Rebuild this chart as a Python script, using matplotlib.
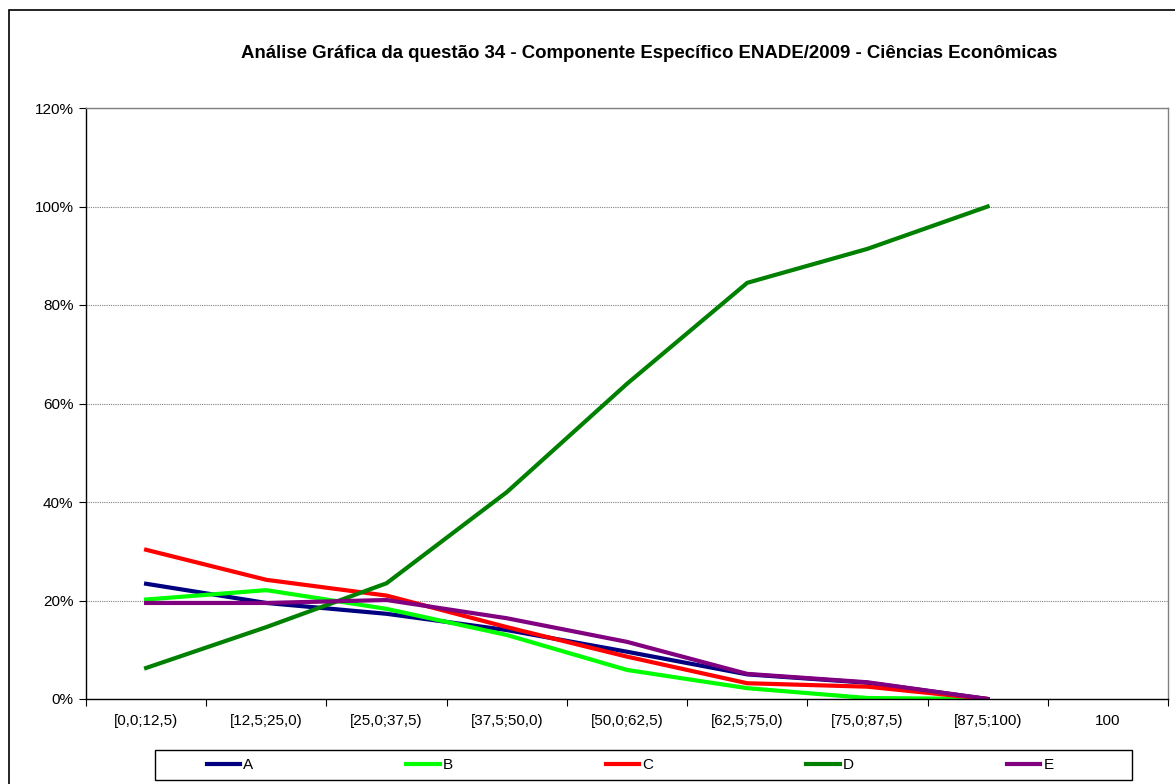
import matplotlib
matplotlib.use("Agg")
import matplotlib.pyplot as plt
from matplotlib.patches import Rectangle
from matplotlib.ticker import PercentFormatter

plt.rcParams["font.family"] = ["Liberation Sans", "DejaVu Sans"]

categories = ["[0,0;12,5)", "[12,5;25,0)", "[25,0;37,5)", "[37,5;50,0)", "[50,0;62,5)",
              "[62,5;75,0)", "[75,0;87,5)", "[87,5;100)", "100"]

# percent of students choosing each alternative per score range
serie_a = [23.4, 19.5, 17.3, 14.0, 9.6, 5.0, 3.3, 0.0]
serie_b = [20.2, 22.1, 18.3, 13.0, 5.9, 2.2, 0.2, 0.0]
serie_c = [30.3, 24.2, 21.0, 14.6, 8.6, 3.2, 2.5, 0.0]
serie_d = [6.3, 14.6, 23.5, 42.0, 64.0, 84.5, 91.4, 100.0]
serie_e = [19.5, 19.5, 20.1, 16.4, 11.6, 5.1, 3.4, 0.0]

nomes = ["A", "B", "C", "D", "E"]
cores = ["#000080", "#00FF00", "#FF0000", "#008000", "#800080"]

fig = plt.figure(figsize=(11.75, 7.84), dpi=100)
ax = fig.add_axes([86 / 1175, 1 - 699 / 784, 1082 / 1175, 591 / 784])

x = list(range(len(serie_a)))
linhas = []
for serie, nome, cor in zip([serie_a, serie_b, serie_c, serie_d, serie_e], nomes, cores):
    ln, = ax.plot(x, serie, color=cor, lw=3.0, label=nome, solid_joinstyle="miter")
    linhas.append(ln)

ax.set_xlim(-0.5, len(categories) - 0.5)
ax.set_ylim(0, 120)
ax.set_yticks(range(0, 121, 20))
ax.yaxis.set_major_formatter(PercentFormatter(decimals=0))
ax.set_xticks([i - 0.5 for i in range(len(categories) + 1)])
ax.set_xticklabels([])
ax.set_xticks(range(len(categories)), minor=True)
ax.set_xticklabels(categories, minor=True)
ax.tick_params(axis="x", which="minor", length=0, pad=11, labelsize=11)
ax.tick_params(axis="x", which="major", length=5, direction="out", color="black")
ax.tick_params(axis="y", length=5, direction="out", labelsize=11, pad=4)
ax.yaxis.grid(True, color="#808080", linestyle=(0, (1, 1)), lw=0.8)
ax.set_axisbelow(True)
for s in ["top", "right"]:
    ax.spines[s].set_color("#808080")
    ax.spines[s].set_linewidth(1.0)
for s in ["left", "bottom"]:
    ax.spines[s].set_color("black")
    ax.spines[s].set_linewidth(1.0)

fig.text(649 / 1175, 1 - 53 / 784,
         "Análise Gráfica da questão 34 - Componente Específico ENADE/2009 - Ciências Econômicas",
         ha="center", va="center", fontsize=13.4, fontweight="bold")

# legend frame drawn by hand, entries centered inside
fig.patches.append(Rectangle((155 / 1175, 1 - 780 / 784), 977 / 1175, 30 / 784,
                             transform=fig.transFigure, fill=False, ec="black", lw=1.0))
fig.legend(linhas, nomes, loc="center", bbox_to_anchor=(630 / 1175, 1 - 765 / 784),
           ncol=5, frameon=False, handlelength=2.2, handletextpad=0.2,
           columnspacing=10.0, fontsize=11)

# outer chart border
fig.patches.append(Rectangle((9 / 1175, -0.1), 1.2, 1.1 - 10 / 784,
                             transform=fig.transFigure, fill=False, ec="black", lw=1.2))

fig.savefig("out.png", dpi=100)
